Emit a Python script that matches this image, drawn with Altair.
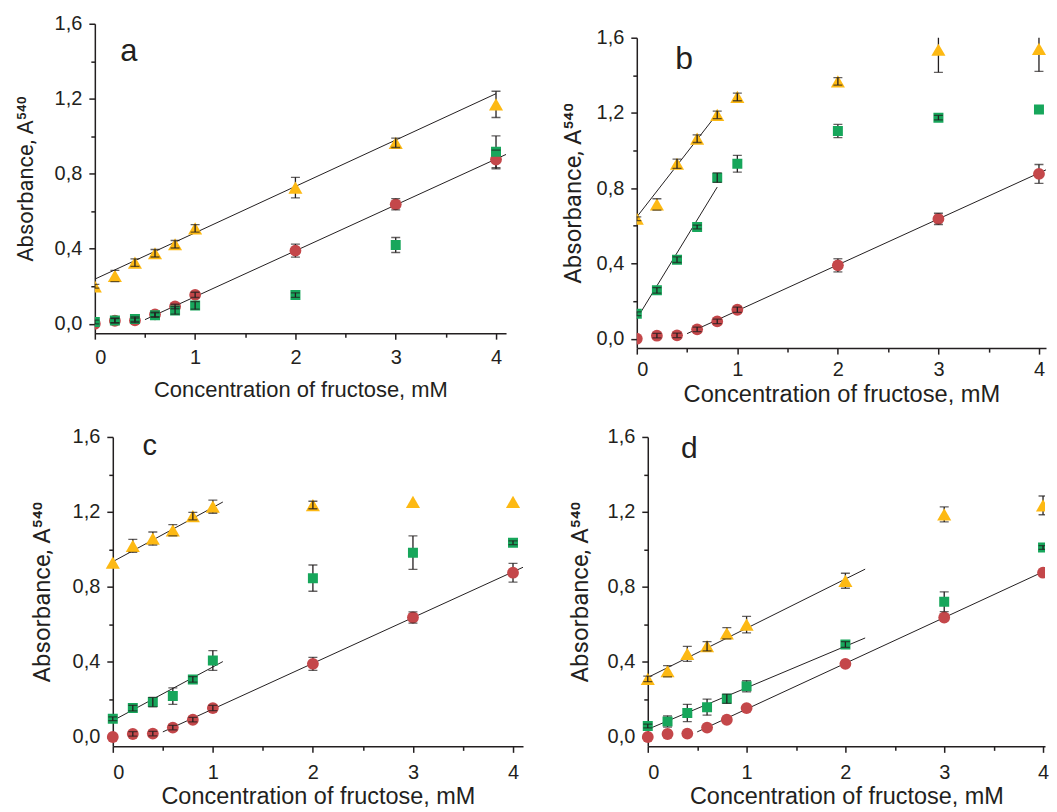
import altair as alt
import pandas as pd

# ---------------- data ----------------
X = [0, 0.2, 0.4, 0.6, 0.8, 1, 2, 3, 4]

# red circles (same curve in every panel)
red_y = [0.0, 0.016, 0.018, 0.05, 0.092, 0.154, 0.39, 0.637, 0.876]
red_err = [0.0, 0.012, 0.012, 0.012, 0.012, 0.014, 0.035, 0.03, 0.05]
red_err_d = [0.0, 0.0, 0.0, 0.0, 0.0, 0.0, 0.0, 0.0, 0.0]

# panel a
a_sq_y = [0.009, 0.018, 0.025, 0.046, 0.071, 0.098, 0.153, 0.42, 0.917]
a_sq_err = [0.01, 0.012, 0.012, 0.012, 0.02, 0.02, 0.012, 0.04, 0.085]
a_tri_y = [0.20, 0.255, 0.326, 0.376, 0.424, 0.509, 0.726, 0.965, 1.17]
a_tri_err = [0.01, 0.03, 0.02, 0.02, 0.02, 0.02, 0.055, 0.025, 0.07]

# panel b
b_sq_y = [0.133, 0.257, 0.42, 0.594, 0.856, 0.93, 1.104, 1.175, 1.219]
b_sq_err = [0.01, 0.015, 0.015, 0.01, 0.025, 0.045, 0.035, 0.012, 0.0]
b_tri_y = [0.638, 0.714, 0.93, 1.063, 1.19, 1.285, 1.368, 1.536, 1.541]
b_tri_err = [0.01, 0.03, 0.025, 0.02, 0.02, 0.02, 0.02, 0.12, 0.12]

# panel c
c_sq_y = [0.097, 0.154, 0.186, 0.218, 0.307, 0.408, 0.847, 0.983, 1.036]
c_sq_err = [0.01, 0.015, 0.025, 0.044, 0.015, 0.053, 0.07, 0.089, 0.01]
c_tri_y = [0.93, 1.019, 1.058, 1.102, 1.178, 1.228, 1.237, 1.254, 1.254]
c_tri_err = [0.0, 0.035, 0.035, 0.03, 0.02, 0.035, 0.02, 0.0, 0.0]

# panel d
d_sq_y = [0.058, 0.083, 0.128, 0.159, 0.204, 0.271, 0.493, 0.721, 1.01]
d_sq_err = [0.01, 0.03, 0.046, 0.043, 0.025, 0.03, 0.015, 0.053, 0.01]
d_tri_y = [0.31, 0.351, 0.443, 0.484, 0.553, 0.599, 0.833, 1.187, 1.235]
d_tri_err = [0.015, 0.03, 0.04, 0.025, 0.03, 0.044, 0.04, 0.04, 0.05]

# linear fits: (series, x start, y start, x end, y end)
a_fits = [("tri", 0.0, 0.238, 4.0, 1.227), ("red", 0.5, 0.022, 4.1, 0.903)]
b_fits = [("tri", 0.0, 0.647, 0.8, 1.196), ("sq", 0.0, 0.106, 0.8, 0.806),
          ("red", 0.5, 0.027, 4.1, 0.905)]
c_fits = [("tri", 0.0, 0.935, 1.1, 1.253), ("sq", 0.0, 0.087, 1.1, 0.402),
          ("red", 0.5, 0.027, 4.1, 0.905)]
d_fits = [("tri", 0.0, 0.317, 2.2, 0.895), ("sq", 0.0, 0.041, 2.2, 0.528),
          ("red", 0.5, 0.027, 4.1, 0.905)]

X_TITLE = "Concentration of fructose, mM"
Y_TITLE = "Absorbance, A\u2075\u2074\u2070"
Y_MIN, Y_MAX = -0.05, 1.6
# series: (key, colour, shape, size) drawn in this order
STYLE = [("red", "#C4474A", "circle", 140),
         ("sq", "#17A65B", "square", 100),
         ("tri", "#FDB913", "triangle-up", 200)]
FONT = "Liberation Sans"
YFONT = "Roboto"
INK = "#231f20"


def panel(label, red, red_e, sq, sq_e, tri, tri_e, fits, cfg):
    rows = []
    for s, ys, es in (("red", red, red_e), ("sq", sq, sq_e), ("tri", tri, tri_e)):
        for xv, yv, ev in zip(X, ys, es):
            rows.append({"x": xv, "y": yv, "err": ev, "lo": yv - ev, "hi": yv + ev, "s": s})
    df = pd.DataFrame(rows)
    fit_rows = []
    for f in fits:
        fit_rows.append({"fit": f[0], "x": f[1], "y": f[2]})
        fit_rows.append({"fit": f[0], "x": f[3], "y": f[4]})
    fdf = pd.DataFrame(fit_rows)

    dx, dy = cfg["dx"], cfg["dy"]
    W, H = cfg["w"] + dx, cfg["h"] + dy
    xs = alt.Scale(domain=[0, cfg["xmax"]], nice=False, zero=False, range=[dx, W])
    ys = alt.Scale(domain=[Y_MIN, Y_MAX], nice=False, zero=False, range=[H, dy], clamp=True)
    xaxis = alt.Axis(
        title=X_TITLE, values=[0, 0.5, 1, 1.5, 2, 2.5, 3, 3.5, 4],
        labelExpr="datum.value % 1 === 0 ? format(datum.value, 'd') : ''",
        tickSize={"condition": {"test": "datum.value % 1 === 0", "value": 6}, "value": 4},
        labelFontSize=cfg["lfs"], titleFontSize=cfg["xtfs"],
        labelPadding=cfg["xlp"], titlePadding=cfg["xtp"], grid=False,
        labelOverlap=False,
    )
    yaxis = alt.Axis(
        title=Y_TITLE, values=[0, 0.2, 0.4, 0.6, 0.8, 1.0, 1.2, 1.4, 1.6],
        labelExpr="round(datum.value*10) % 4 === 0 ? replace(format(datum.value, '.1f'), '.', ',') : ''",
        tickSize={"condition": {"test": "round(datum.value*10) % 4 === 0", "value": 6}, "value": 4},
        labelFontSize=cfg["lfs"], titleFontSize=cfg["ytfs"], titleFont=YFONT,
        labelPadding=cfg["ylp"], titlePadding=cfg["ytp"], grid=False,
        labelOverlap=False, offset=-dx,
    )

    def X_(f="x"):
        return alt.X(f + ":Q", scale=xs, axis=xaxis)

    def Y_(f):
        return alt.Y(f + ":Q", scale=ys, axis=yaxis)

    base = alt.Chart(df)
    layers = [
        alt.Chart(fdf).mark_line(clip=True, color=INK, strokeWidth=1).encode(
            x=X_(), y=Y_("y"), detail="fit:N"),
        base.transform_filter("datum.err >= 0.03").mark_rule(
            clip=True, color=INK, strokeWidth=1.3).encode(x=X_(), y=Y_("lo"), y2="hi:Q"),
    ]
    for key, col, shp, size in STYLE:
        layers.append(
            base.transform_filter("datum.s === '%s'" % key).mark_point(
                filled=True, clip=True, opacity=1, strokeWidth=0,
                color=col, shape=shp, size=size).encode(x=X_(), y=Y_("y")))
    layers.append(
        base.transform_filter("datum.err > 0 && datum.err < 0.03").mark_rule(
            clip=True, color=INK, strokeWidth=1.3).encode(x=X_(), y=Y_("lo"), y2="hi:Q"))
    layers.append(
        base.transform_filter("datum.err > 0").transform_fold(
            ["lo", "hi"], as_=["end", "v"]).transform_filter(
            "datum.v <= %g" % Y_MAX).mark_tick(
            orient="horizontal", clip=True, color=INK, size=9, thickness=1.3).encode(
            x=X_(), y=Y_("v")))
    layers.append(
        alt.Chart(pd.DataFrame({"x": [cfg["lx"]], "y": [cfg["ly"]], "t": [label]})).mark_text(
            font=FONT, fontSize=cfg["labfs"], color=INK, align="center",
            baseline="alphabetic").encode(x=X_(), y=Y_("y"), text="t:N"))
    return alt.layer(*layers).properties(width=W, height=H)


# dx / dy: extra room inside a panel that shifts its axes right / down
cfg_a = dict(xmax=4.1, w=412, h=310, dx=0, dy=0, lfs=20, xtfs=22, ytfs=22,
             xlp=8, xtp=12, ylp=7, ytp=17, lx=0.34, ly=1.40, labfs=31)
cfg_b = dict(xmax=4.07, w=410, h=311, dx=0, dy=14, lfs=20, xtfs=23.7, ytfs=24,
             xlp=5, xtp=3, ylp=7, ytp=11, lx=0.47, ly=1.435, labfs=32)
cfg_c = dict(xmax=4.1, w=411, h=310, dx=18, dy=0, lfs=20, xtfs=23.5, ytfs=24,
             xlp=10, xtp=2, ylp=7, ytp=18, lx=0.37, ly=1.505, labfs=29)
cfg_d = dict(xmax=4.02, w=398, h=310, dx=11, dy=0, lfs=20, xtfs=23.5, ytfs=24,
             xlp=10, xtp=2, ylp=7, ytp=15, lx=0.42, ly=1.49, labfs=30)

pa = panel("a", red_y, red_err, a_sq_y, a_sq_err, a_tri_y, a_tri_err, a_fits, cfg_a)
pb = panel("b", red_y, red_err, b_sq_y, b_sq_err, b_tri_y, b_tri_err, b_fits, cfg_b)
pc = panel("c", red_y, red_err, c_sq_y, c_sq_err, c_tri_y, c_tri_err, c_fits, cfg_c)
pd_ = panel("d", red_y, red_err_d, d_sq_y, d_sq_err, d_tri_y, d_tri_err, d_fits, cfg_d)

chart = alt.concat(
    pa, pb, pc, pd_, columns=2, align="each", bounds="full",
    spacing={"row": 21, "column": 38},
).properties(
    padding={"left": 6, "top": 5, "right": 0, "bottom": 0}
).configure_view(stroke=None).configure_axis(
    domainColor=INK, tickColor=INK, labelColor=INK, titleColor=INK,
    labelFont=FONT, titleFont=FONT, titleFontWeight="normal",
    domainWidth=1.5, tickWidth=1.5,
)

chart.save("out.html", embed_options={"renderer": "svg", "actions": False})
